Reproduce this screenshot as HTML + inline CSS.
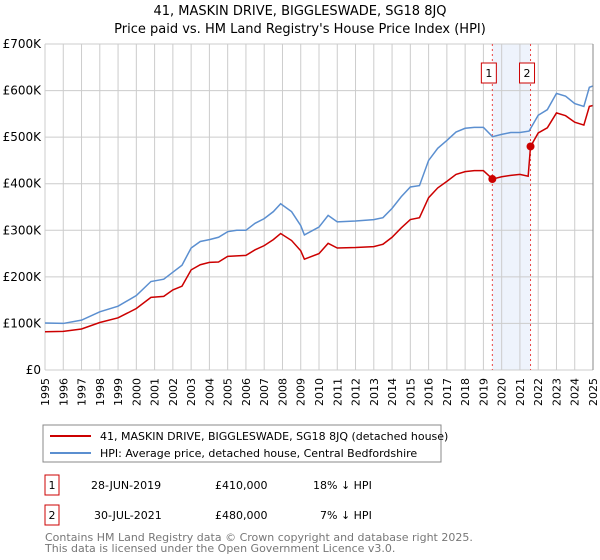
<!DOCTYPE html>
<html><head><meta charset="utf-8"><style>
body{margin:0;background:#fff;width:600px;height:560px;overflow:hidden;font-family:"DejaVu Sans","Liberation Sans",sans-serif;}
svg{position:absolute;left:0;top:0}
</style></head><body>
<svg width="600" height="560" id="svg" font-family="DejaVu Sans, Liberation Sans, sans-serif">
<text x="300" y="15" text-anchor="middle" font-size="13">41, MASKIN DRIVE, BIGGLESWADE, SG18 8JQ</text>
<text x="300" y="33" text-anchor="middle" font-size="13">Price paid vs. HM Land Registry's House Price Index (HPI)</text>
<g id="grid"></g><g id="series"></g><g id="axes"></g>
<rect x="43" y="425" width="398" height="37" fill="#fff" stroke="#888"/>
<line x1="50" y1="436" x2="91" y2="436" stroke="#cc0000" stroke-width="2"/>
<text x="100" y="440" font-size="11">41, MASKIN DRIVE, BIGGLESWADE, SG18 8JQ (detached house)</text>
<line x1="50" y1="453" x2="91" y2="453" stroke="#5b8fd0" stroke-width="2"/>
<text x="100" y="457" font-size="11">HPI: Average price, detached house, Central Bedfordshire</text>
<g font-size="11">
<rect x="45" y="475" width="14" height="20" fill="#fff" stroke="#cc0000"/>
<text x="52" y="489" text-anchor="middle">1</text>
<text x="91" y="489">28-JUN-2019</text><text x="215" y="489">£410,000</text><text x="313" y="489">18% ↓ HPI</text>
<rect x="45" y="505" width="14" height="20" fill="#fff" stroke="#cc0000"/>
<text x="52" y="519" text-anchor="middle">2</text>
<text x="94" y="519">30-JUL-2021</text><text x="215" y="519">£480,000</text><text x="320" y="519">7% ↓ HPI</text>
</g>
<text x="45" y="541" font-size="11" fill="#777">Contains HM Land Registry data © Crown copyright and database right 2025.</text>
<text x="45" y="552" font-size="11" fill="#777">This data is licensed under the Open Government Licence v3.0.</text>
</svg>
<script>
const hpiYears=[1995,1996,1997,1998,1999,2000,2000.8,2001.5,2002,2002.5,2003,2003.5,2004,2004.5,2005,2005.5,2006,2006.5,2007,2007.5,2007.9,2008.5,2009,2009.2,2010,2010.5,2011,2012,2013,2013.5,2014,2014.5,2015,2015.5,2016,2016.5,2017,2017.5,2018,2018.5,2019,2019.5,2020,2020.5,2021,2021.5,2022,2022.5,2023,2023.5,2024,2024.5,2024.8,2025];
const hpiValues=[101,100,107,125,137,160,190,195,210,225,262,276,280,285,297,300,300,315,325,340,357,340,310,290,307,332,318,320,323,327,347,372,393,396,450,476,493,511,519,521,521,501,506,510,510,513,547,559,594,588,572,566,607,610];
const priceYears=[1995,1996,1997,1998,1999,2000,2000.8,2001.5,2002,2002.5,2003,2003.5,2004,2004.5,2005,2005.5,2006,2006.5,2007,2007.5,2007.9,2008.5,2009,2009.2,2010,2010.5,2011,2012,2013,2013.5,2014,2014.5,2015,2015.5,2016,2016.5,2017,2017.5,2018,2018.5,2019,2019.5,2020,2020.5,2021,2021.45,2021.58,2022,2022.5,2023,2023.5,2024,2024.5,2024.8,2025];
const priceValues=[82,83,88,102,112,132,156,158,172,180,215,226,231,232,244,245,246,258,267,280,293,278,256,238,250,272,262,263,265,270,285,305,323,327,370,391,405,420,426,428,428,410,415,418,420,416,480,509,520,552,546,532,526,566,568];
const saleYears=[2019.49,2021.58];
const saleValues=[410,480];
const yTicks=[0,100,200,300,400,500,600,700];
const yTickLabels=["£0","£100K","£200K","£300K","£400K","£500K","£600K","£700K"];
const xTicks=[1995,1996,1997,1998,1999,2000,2001,2002,2003,2004,2005,2006,2007,2008,2009,2010,2011,2012,2013,2014,2015,2016,2017,2018,2019,2020,2021,2022,2023,2024,2025];
const NS="http://www.w3.org/2000/svg";
const L=45,R=593,T=44,B=370;
const xS=y=>L+(y-1995)/30*(R-L);
const yS=v=>B-v/700*(B-T);
function mk(tag,attrs,parent){const e=document.createElementNS(NS,tag);for(const k in attrs)e.setAttribute(k,attrs[k]);document.getElementById(parent).appendChild(e);return e;}
const band=mk('rect',{x:xS(saleYears[0]),y:T,width:xS(saleYears[1])-xS(saleYears[0]),height:B-T,fill:'#eef3fc'},'grid');


xTicks.forEach(t=>{
 const g=mk('line',{x1:xS(t),x2:xS(t),y1:T,y2:B,stroke:'#cccccc'},'grid');
 
 
 const tx=mk('text',{x:0,y:0,'font-size':11,'text-anchor':'end',transform:`translate(${xS(t)+4},${B+8}) rotate(-90)`},'axes');
 tx.textContent=t;
 
 
});
yTicks.forEach((t,i)=>{
 const g=mk('line',{x1:L,x2:R,y1:yS(t),y2:yS(t),stroke:'#cccccc'},'grid');
 
 
 const tx=mk('text',{x:L-4,y:yS(t)+4,'font-size':12,'text-anchor':'end'},'axes');
 tx.textContent=yTickLabels[i];
 
 
});
saleYears.forEach((s,i)=>{
 const l=mk('line',{x1:xS(s),x2:xS(s),y1:T,y2:B,stroke:'#ee4444','stroke-dasharray':'2,3'},'grid');
 
 
 const r=mk('rect',{x:xS(s)-11,y:T+19,width:15,height:20,fill:'#fff',stroke:'#cc0000'},'axes');
 
 
 const t=mk('text',{x:xS(s)-3.5,y:T+33,'font-size':11,'text-anchor':'middle'},'axes');
 t.textContent=String(i+1);
 
 
});
const hp=mk('polyline',{points:hpiYears.map((y,i)=>xS(y)+','+yS(hpiValues[i])).join(' '),fill:'none',stroke:'#5b8fd0','stroke-width':1.5},'series');


const pp=mk('polyline',{points:priceYears.map((y,i)=>xS(y)+','+yS(priceValues[i])).join(' '),fill:'none',stroke:'#cc0000','stroke-width':1.5},'series');


saleYears.forEach((s,i)=>{
 const c=mk('circle',{cx:xS(s),cy:yS(saleValues[i]),r:4,fill:'#cc0000'},'series');
 
 
});
const ax=mk('line',{x1:R,x2:R,y1:T,y2:B,stroke:'#888'},'axes');


</script>
</body></html>
